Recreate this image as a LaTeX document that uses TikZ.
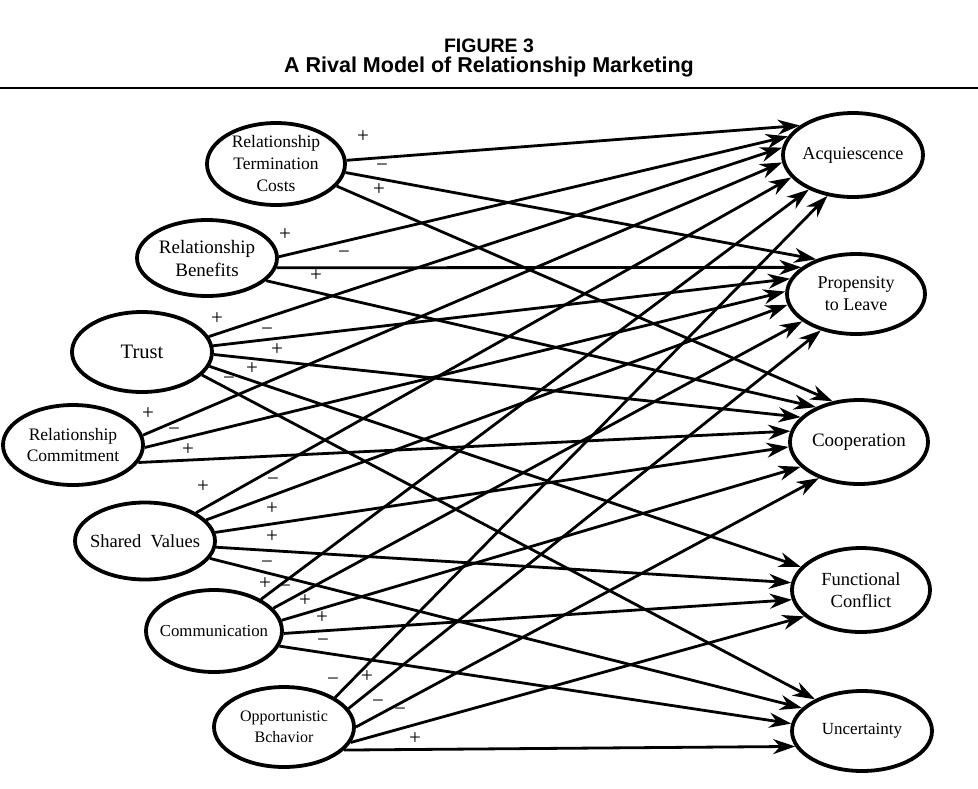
\documentclass[tikz,border=0pt]{standalone}
\usepackage{fontspec}
\setmainfont{Liberation Serif}
\newfontfamily\titlefont{Liberation Sans}
\usetikzlibrary{shapes.geometric,arrows.meta}
\begin{document}
\begin{tikzpicture}[x=1pt,y=-1pt,
  var/.style={ellipse,draw,line width=3.8pt,inner sep=-12pt,align=center},
  link/.style={line width=2.8pt,-{Stealth[length=22pt,width=15pt,inset=7pt]}},
  sgn/.style={inner sep=0pt,text height=0.45em,text depth=0pt,font=\fontsize{21}{21}\selectfont},
  ttl/.style={inner sep=0pt}]
\useasboundingbox (0,0) rectangle (978,788);
% title
\node[ttl,font=\titlefont\bfseries\fontsize{19.5}{20}\selectfont] (fig) at (489,46) {FIGURE 3};
\node[ttl,font=\titlefont\bfseries\fontsize{21.5}{22}\selectfont] (sub) at (489,67) {A Rival Model of Relationship Marketing};
\coordinate (rl) at (0,88);
\coordinate (rr) at (978,88);
\draw[line width=2.6pt] (rl) -- (rr);
% left nodes
\node[var,minimum width=138pt,minimum height=82pt,font=\fontsize{17.5}{22}\selectfont] (rtc) at (276,164) {Relationship\\Termination\\Costs};
\node[var,minimum width=140pt,minimum height=76pt,font=\fontsize{19}{23}\selectfont] (rb) at (207,258) {Relationship\\Benefits};
\node[var,minimum width=140pt,minimum height=80pt,font=\fontsize{20.5}{23}\selectfont] (trust) at (142,352) {Trust};
\node[var,minimum width=140pt,minimum height=80pt,font=\fontsize{17.5}{21}\selectfont] (rc) at (73,445) {Relationship\\Commitment};
\node[var,minimum width=140pt,minimum height=77pt,font=\fontsize{18.5}{22}\selectfont] (sv) at (145,541) {Shared\enspace Values};
\node[var,minimum width=136pt,minimum height=82pt,font=\fontsize{16.8}{20}\selectfont] (comm) at (214,631) {Communication};
\node[var,minimum width=140pt,minimum height=80pt,font=\fontsize{16}{20.5}\selectfont] (ob) at (284,727) {Opportunistic\\Bchavior};
% right nodes
\node[var,minimum width=140pt,minimum height=84pt,font=\fontsize{18.2}{22}\selectfont] (acq) at (853,155) {Acquiescence};
\node[var,minimum width=138pt,minimum height=80pt,font=\fontsize{18}{22}\selectfont] (prop) at (856,294) {Propensity\\to Leave};
\node[var,minimum width=138pt,minimum height=84pt,font=\fontsize{19}{22}\selectfont] (coop) at (859,442) {Cooperation};
\node[var,minimum width=138pt,minimum height=84pt,font=\fontsize{18.5}{22}\selectfont] (fc) at (861,590) {Functional\\Conflict};
\node[var,minimum width=140pt,minimum height=80pt,font=\fontsize{17}{22}\selectfont] (unc) at (862,731) {Uncertainty};
% connectors
\draw[link] (rtc.3) -- (acq.151);
\draw[link] (rtc.-7) -- (prop.139);
\draw[link] (rtc.-20) -- (coop.123);
\draw[link] (rb.1) -- (acq.164);
\draw[link] (rb.-8) -- (prop.154);
\draw[link] (rb.-21) -- (coop.141);
\draw[link] (trust.13) -- (acq.174);
\draw[link] (trust.5) -- (prop.167);
\draw[link] (trust.-2) -- (coop.157);
\draw[link] (trust.-12) -- (fc.159);
\draw[link] (trust.-21) -- (unc.146);
\draw[link] (rc.8) -- (acq.186);
\draw[link] (rc.-2) -- (prop.178);
\draw[link] (rc.-15) -- (coop.171);
\draw[link] (sv.29) -- (acq.200);
\draw[link] (sv.19) -- (prop.189);
\draw[link] (sv.7) -- (coop.184);
\draw[link] (sv.-5) -- (fc.174);
\draw[link] (sv.-15) -- (unc.159);
\draw[link] (comm.34) -- (acq.218);
\draw[link] (comm.21) -- (prop.207);
\draw[link] (comm.9) -- (coop.203);
\draw[link] (comm.-2) -- (fc.188);
\draw[link] (comm.-13) -- (unc.174);
\draw[link] (ob.30) -- (acq.238);
\draw[link] (ob.16) -- (prop.226);
\draw[link] (ob.0) -- (coop.222);
\draw[link] (ob.-13) -- (fc.205);
\draw[link] (ob.-21) -- (unc.193);
% signs
\node[sgn] (s1) at (363,140) {+};
\node[sgn] (s2) at (382,169) {−};
\node[sgn] (s3) at (379,193) {+};
\node[sgn] (s4) at (285,238) {+};
\node[sgn] (s5) at (344,256) {−};
\node[sgn] (s6) at (316,279) {+};
\node[sgn] (s7) at (217,322) {+};
\node[sgn] (s8) at (267,333) {−};
\node[sgn] (s9) at (277,353) {+};
\node[sgn] (s10) at (252,372) {+};
\node[sgn] (s11) at (229,382) {−};
\node[sgn] (s12) at (148,417) {+};
\node[sgn] (s13) at (174,433) {−};
\node[sgn] (s14) at (188,453) {+};
\node[sgn] (s15) at (203,490) {+};
\node[sgn] (s16) at (273,483) {−};
\node[sgn] (s17) at (272,512) {+};
\node[sgn] (s18) at (272,540) {+};
\node[sgn] (s19) at (267,566) {−};
\node[sgn] (s20) at (265,587) {+};
\node[sgn] (s21) at (285,590) {−};
\node[sgn] (s22) at (305,604) {+};
\node[sgn] (s23) at (322,621) {+};
\node[sgn] (s24) at (323,644) {−};
\node[sgn] (s25) at (333,683) {−};
\node[sgn] (s26) at (367,680) {+};
\node[sgn] (s27) at (378,705) {−};
\node[sgn] (s28) at (400,713) {−};
\node[sgn] (s29) at (415,742) {+};
\end{tikzpicture}
\end{document}
